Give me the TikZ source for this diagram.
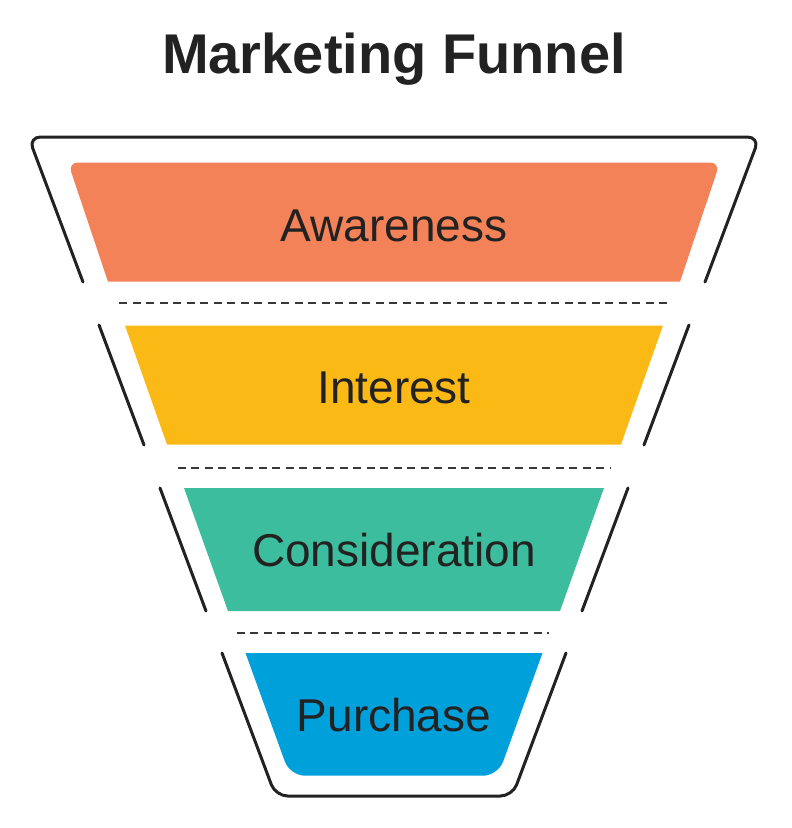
\documentclass[tikz,border=0pt]{standalone}
\usepackage{fontspec}
\setmainfont{Liberation Sans}
\usepackage{tikz}
\definecolor{ink}{HTML}{222222}
\definecolor{awarecol}{HTML}{F38258}
\definecolor{interestcol}{HTML}{FBB916}
\definecolor{considercol}{HTML}{3BBD9E}
\definecolor{purchasecol}{HTML}{00A0DB}
\tikzstyle{rim}=[draw=ink,line width=3pt,line cap=round,line join=round]
\tikzstyle{divider}=[draw=ink!90,line width=2pt,dash pattern=on 8pt off 5.5pt]
\tikzstyle{stage}=[anchor=base,text=ink,inner sep=0pt,font=\fontsize{46}{50}\selectfont]
\tikzstyle{heading}=[anchor=base,text=ink,inner sep=0pt,font=\fontsize{56}{60}\selectfont\bfseries]

\begin{document}
\begin{tikzpicture}[x=1pt,y=-1pt]
                \useasboundingbox (0,0) rectangle (792,828);
                % funnel rim, broken at the dividers
                \draw[rim,rounded corners=12pt] (83,282) -- (28.5,137) -- (759.5,137) -- (705,282);
                \draw[rim] (99,325) -- (144,445) (689,325) -- (644,445);
                \draw[rim] (160,488) -- (206,611) (628,488) -- (582,611);
                \draw[rim,rounded corners=12pt] (222,653) -- (275.6,796) -- (512.4,796) -- (566,653);
                % stages
                \fill[awarecol,rounded corners=10pt] (108,281.7) -- (68,162.5) -- (720,162.5) -- (680,281.7);
                \fill[interestcol] (125,325.5) -- (663,325.5) -- (621,444.5) -- (167,444.5) -- cycle;
                \fill[considercol] (184,488) -- (604,488) -- (560,611) -- (228,611) -- cycle;
                \fill[purchasecol,rounded corners=15pt] (245.5,653) -- (290,775.7) -- (498,775.7) -- (542.5,653);
                % dividers
                \draw[divider] (119.3,303.3) -- (668.7,303.3);
                \draw[divider] (177.5,468.3) -- (610.5,468.3);
                \draw[divider] (236.7,632.7) -- (549.3,632.7);
                % labels
                \path node[heading] (title) at (394,73.3) {Marketing Funnel}
                    node[stage] (aware) at (394,241.7) {Awareness}
                    node[stage] (interest) at (394,403.5) {Interest}
                    node[stage] (consider) at (394,566.7) {Consideration}
                    node[stage] (purchase) at (394,731) {Purchase}
                    ;
            \end{tikzpicture}
\end{document}
